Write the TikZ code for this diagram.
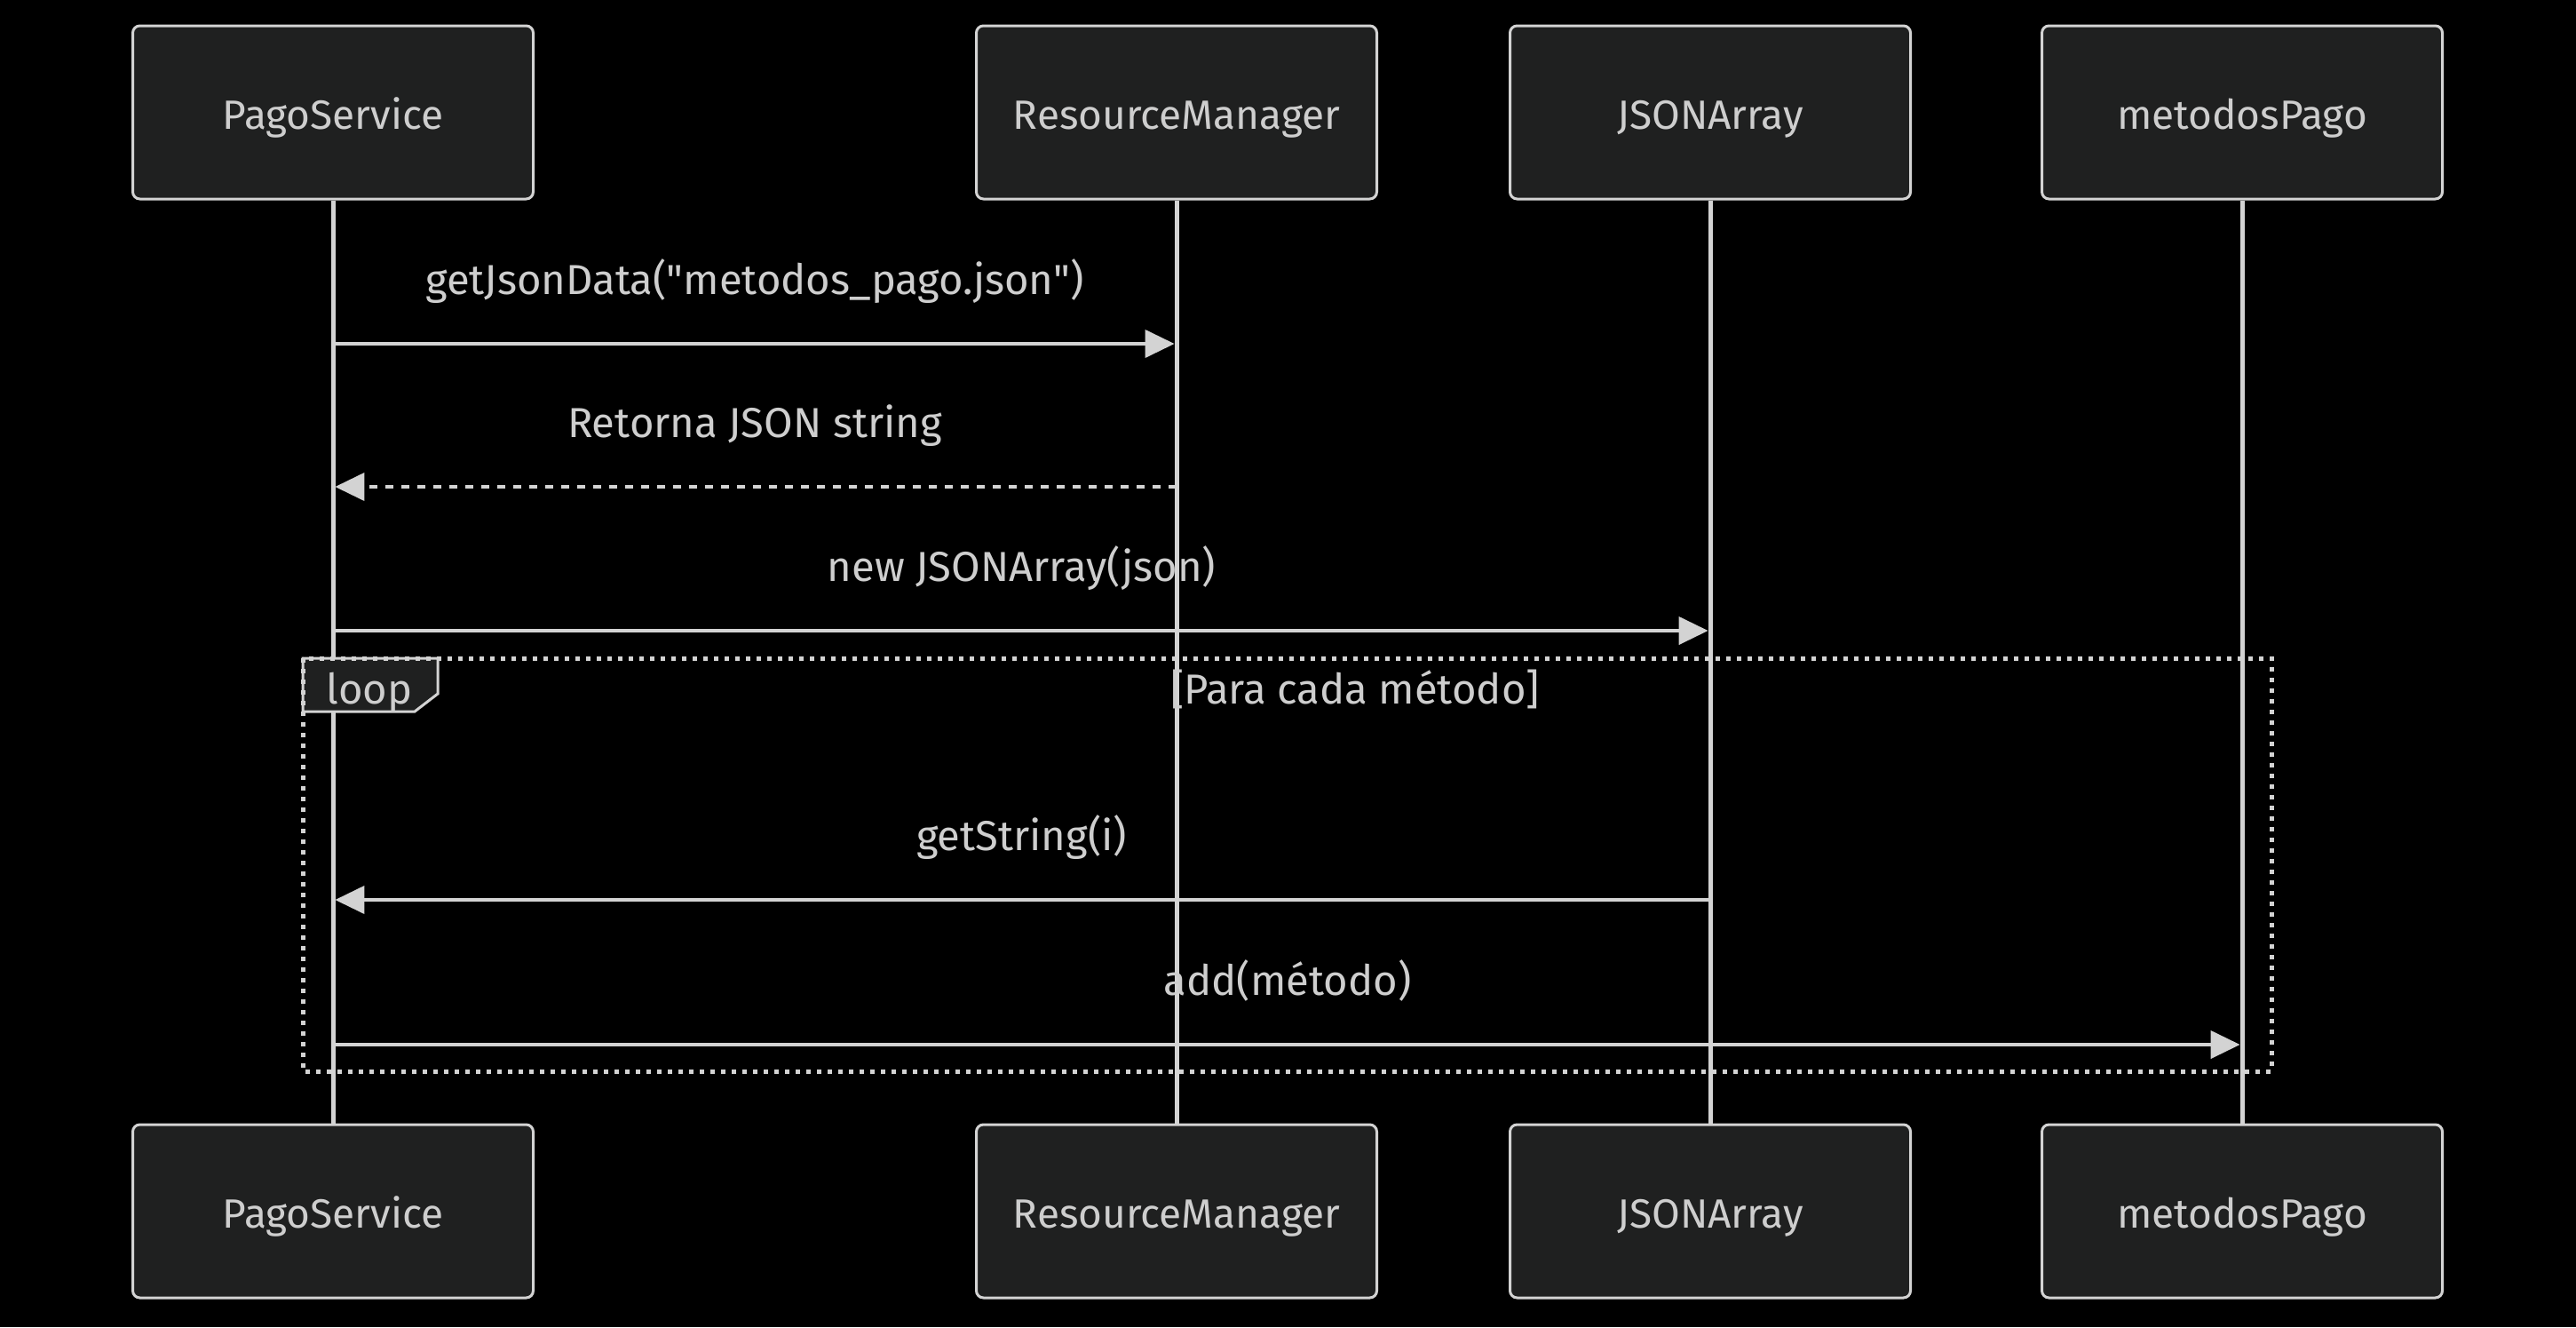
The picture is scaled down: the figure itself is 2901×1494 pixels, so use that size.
\documentclass[tikz,border=0pt]{standalone}
\usepackage{fontspec}
\setmainfont{Fira Sans}
\usetikzlibrary{positioning}
\usetikzlibrary{calc}
\usetikzlibrary{arrows.meta}

\definecolor{boxfill}{RGB}{31,32,32}
\definecolor{linegray}{RGB}{211,211,211}
\definecolor{textgray}{RGB}{206,206,206}

\tikzset{
    actor/.style={
        rectangle, rounded corners=4pt, draw=linegray, line width=1.5pt,
        fill=boxfill, minimum width=225.5pt, minimum height=97.5pt,
        inner sep=0pt, text=textgray, font=\fontsize{23}{28}\selectfont,
        text height=18.5pt, text depth=0pt},
    lifeline/.style={draw=linegray, line width=2.5pt},
    msg/.style={draw=linegray, line width=2pt, shorten >=1.2pt,
        -{Triangle[length=16.5pt,width=15.5pt]}},
    retmsg/.style={msg, dash pattern=on 4.5pt off 4.5pt},
    msg text/.style={anchor=base, yshift=28pt, text=textgray,
        font=\fontsize{23.6}{28}\selectfont},
    frame text/.style={anchor=base, text=textgray,
        font=\fontsize{23.6}{28}\selectfont},
    loop frame/.style={draw=linegray, line width=2.5pt,
        dash pattern=on 2.5pt off 3.5pt}
}

\begin{document}
\begin{tikzpicture}[x=0.5pt, y=-0.5pt]

% Sequence: loading payment methods

\fill [black] (0,0) rectangle (2901,1494);

\node [actor] (pago top) at (375,126.5) {PagoService};
\node [actor] (rm top) at (1325,126.5) {ResourceManager};
\node [actor] (json top) at (1926,126.5) {JSONArray};
\node [actor] (metodos top) at (2525,126.5) {metodosPago};

\node [actor] (pago bottom) at (375,1363.5) {PagoService};
\node [actor] (rm bottom) at (1325,1363.5) {ResourceManager};
\node [actor] (json bottom) at (1926,1363.5) {JSONArray};
\node [actor] (metodos bottom) at (2525,1363.5) {metodosPago};

\draw [lifeline] (pago top.south) -- (pago bottom.north);
\draw [lifeline] (rm top.south) -- (rm bottom.north);
\draw [lifeline] (json top.south) -- (json bottom.north);
\draw [lifeline] (metodos top.south) -- (metodos bottom.north);

% loop frame
\coordinate (loop nw) at (341,741);
\coordinate (loop se) at (2558,1206);
\filldraw [fill=boxfill, draw=linegray, line width=1.5pt]
    (loop nw) -- ++(152,0) -- ++(0,40) -- ++(-26,20) -- ++(-126,0) -- cycle;
\draw [loop frame] (loop nw) rectangle (loop se);
\node [frame text] (loop tag) at (416,792) {loop};
\node [frame text] (loop cond) at (1526,792) {[Para cada método]};

% message rows
\coordinate (row1) at (0,387);
\coordinate (row2) at (0,548);
\coordinate (row3) at (0,710);
\coordinate (row4) at (0,1013);
\coordinate (row5) at (0,1176);

\draw [msg] (pago top |- row1) -- (rm top |- row1)
    node [midway, msg text]
    {getJsonData(\textquotedbl metodos\_pago.json\textquotedbl)};
\draw [retmsg] (rm top |- row2) -- (pago top |- row2)
    node [midway, msg text] {Retorna JSON string};
\draw [msg] (pago top |- row3) -- (json top |- row3)
    node [midway, msg text] {new JSONArray(json)};
\draw [msg] (json top |- row4) -- (pago top |- row4)
    node [midway, msg text] {getString(i)};
\draw [msg] (pago top |- row5) -- (metodos top |- row5)
    node [midway, msg text] {add(método)};

\end{tikzpicture}
\end{document}
